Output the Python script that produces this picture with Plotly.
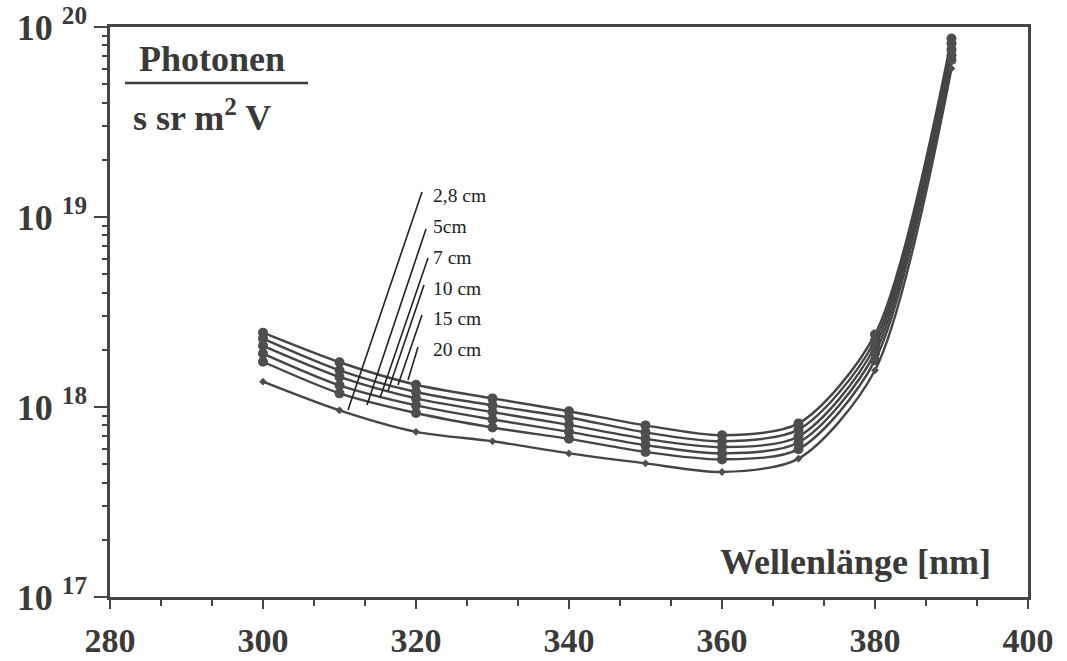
import plotly.graph_objects as go

# Wavelength grid (nm)
wavelength = [300, 310, 320, 330, 340, 350, 360, 370, 380, 390]

# Spectral photon radiance, photons / (s sr m^2 V), per distance
series_names = ["20 cm", "15 cm", "10 cm", "7 cm", "5cm", "2,8 cm"]
rad_20cm = [2.46e18, 1.72e18, 1.31e18, 1.11e18, 9.5e17, 8.0e17, 7.1e17, 8.2e17, 2.41e18, 8.7e19]
rad_15cm = [2.29e18, 1.56e18, 1.20e18, 1.02e18, 8.8e17, 7.35e17, 6.6e17, 7.6e17, 2.24e18, 8.2e19]
rad_10cm = [2.10e18, 1.44e18, 1.11e18, 9.4e17, 8.05e17, 6.8e17, 6.15e17, 7.0e17, 2.08e18, 7.6e19]
rad_7cm = [1.91e18, 1.30e18, 1.02e18, 8.6e17, 7.4e17, 6.3e17, 5.7e17, 6.5e17, 1.92e18, 7.1e19]
rad_5cm = [1.73e18, 1.18e18, 9.3e17, 7.8e17, 6.8e17, 5.8e17, 5.3e17, 6.0e17, 1.76e18, 6.7e19]
rad_2_8cm = [1.36e18, 9.6e17, 7.4e17, 6.6e17, 5.7e17, 5.05e17, 4.55e17, 5.35e17, 1.56e18, 6.05e19]

# Axis ticks
x_ticks = [280, 300, 320, 340, 360, 380, 400]
y_ticks = [1e17, 1e18, 1e19, 1e20]
y_tick_text = ["10&nbsp;<sup>17</sup>", "10&nbsp;<sup>18</sup>",
               "10&nbsp;<sup>19</sup>", "10&nbsp;<sup>20</sup>"]
y_minor = [float(m) * 10.0 ** e for e in (17, 18, 19) for m in range(2, 10)]

INK = "#3a3a3a"
LINE = "#454545"
SERIF = "Liberation Serif, Times New Roman, serif"

W, H = 1067, 661
L, R, T, B = 110, 39, 27, 64

fig = go.Figure()

all_series = [rad_20cm, rad_15cm, rad_10cm, rad_7cm, rad_5cm, rad_2_8cm]
for name, vals in zip(series_names, all_series):
    small = name == "2,8 cm"
    fig.add_trace(go.Scatter(
        x=wavelength, y=vals, name=name,
        mode="lines+markers",
        line=dict(color=LINE, width=2.4, shape="spline", smoothing=0.8),
        marker=dict(symbol="diamond" if small else "circle",
                    size=6 if small else 10, color="#4e4e4e"),
        showlegend=False,
    ))

# Convert pixel positions in the page to paper coordinates
def pxx(x):
    return (x - L) / (W - L - R)

def pxy(y):
    return (H - B - y) / (H - T - B)

shapes = []
annotations = []

# Leader lines from the curve labels down to the curves
label_tops = [(422, 192), (426, 229), (428, 258), (424, 285), (422, 315), (418, 347)]
label_feet = [(348, 410), (367, 405), (380, 398), (388, 391), (398, 385), (408, 380)]
label_text = ["2,8 cm", "5cm", "7 cm", "10 cm", "15 cm", "20 cm"]
label_y = [195, 226, 257, 288, 318, 349]
for (x0, y0), (x1, y1), txt, ly in zip(label_tops, label_feet, label_text, label_y):
    shapes.append(dict(type="line", xref="paper", yref="paper",
                       x0=pxx(x0), y0=pxy(y0), x1=pxx(x1), y1=pxy(y1),
                       line=dict(color="#222222", width=1.6)))
    annotations.append(dict(text=txt, xref="paper", yref="paper",
                            x=pxx(431), y=pxy(ly), xanchor="left", yanchor="middle",
                            showarrow=False, font=dict(family=SERIF, size=19.5, color="#222222")))

# Unit label as a fraction
annotations.append(dict(text="<b>Photonen</b>", xref="paper", yref="paper",
                        x=pxx(212), y=pxy(59), xanchor="center", yanchor="middle",
                        showarrow=False, font=dict(family=SERIF, size=36, color=INK)))
shapes.append(dict(type="line", xref="paper", yref="paper",
                   x0=pxx(125), y0=pxy(83), x1=pxx(308), y1=pxy(83),
                   line=dict(color=INK, width=2.5)))
annotations.append(dict(text="<b>s sr m<sup>2</sup> V</b>", xref="paper", yref="paper",
                        x=pxx(131), y=pxy(115), xanchor="left", yanchor="middle",
                        showarrow=False, font=dict(family=SERIF, size=36, color=INK)))

# Axis title inside the plot
annotations.append(dict(text="<b>Wellenlänge [nm]</b>", xref="paper", yref="paper",
                        x=pxx(993), y=pxy(562), xanchor="right", yanchor="middle",
                        showarrow=False, font=dict(family=SERIF, size=36, color=INK)))

fig.update_layout(
    width=W, height=H,
    margin=dict(l=L, r=R, t=T, b=B, pad=0, autoexpand=False),
    paper_bgcolor="white", plot_bgcolor="white",
    shapes=shapes, annotations=annotations,
    font=dict(family=SERIF, color=INK),
)

fig.update_xaxes(
    range=[280, 400], tickvals=x_ticks, ticktext=[f"<b>{v}</b>" for v in x_ticks],
    ticks="outside", ticklen=9, tickwidth=2, tickcolor=LINE,
    showline=True, linecolor=LINE, linewidth=2.5, mirror=True,
    showgrid=False, zeroline=False, automargin=False,
    tickfont=dict(family=SERIF, size=34, color=INK),
    ticklabelstandoff=2,
    minor=dict(dtick=20 / 3, tick0=280, ticks="outside", ticklen=6,
               tickwidth=2, tickcolor=LINE, showgrid=False),
)

fig.update_yaxes(
    type="log", range=[17, 20], tickvals=y_ticks,
    ticktext=[f"<b>{t}</b>" for t in y_tick_text],
    ticks="outside", ticklen=13, tickwidth=2, tickcolor=LINE,
    showline=True, linecolor=LINE, linewidth=2.5, mirror=True,
    showgrid=False, zeroline=False, automargin=False,
    tickfont=dict(family=SERIF, size=36, color=INK),
    minor=dict(tickvals=y_minor, ticks="outside", ticklen=5, tickwidth=2,
               tickcolor=LINE, showgrid=False),
)

fig.write_html("out.html")
